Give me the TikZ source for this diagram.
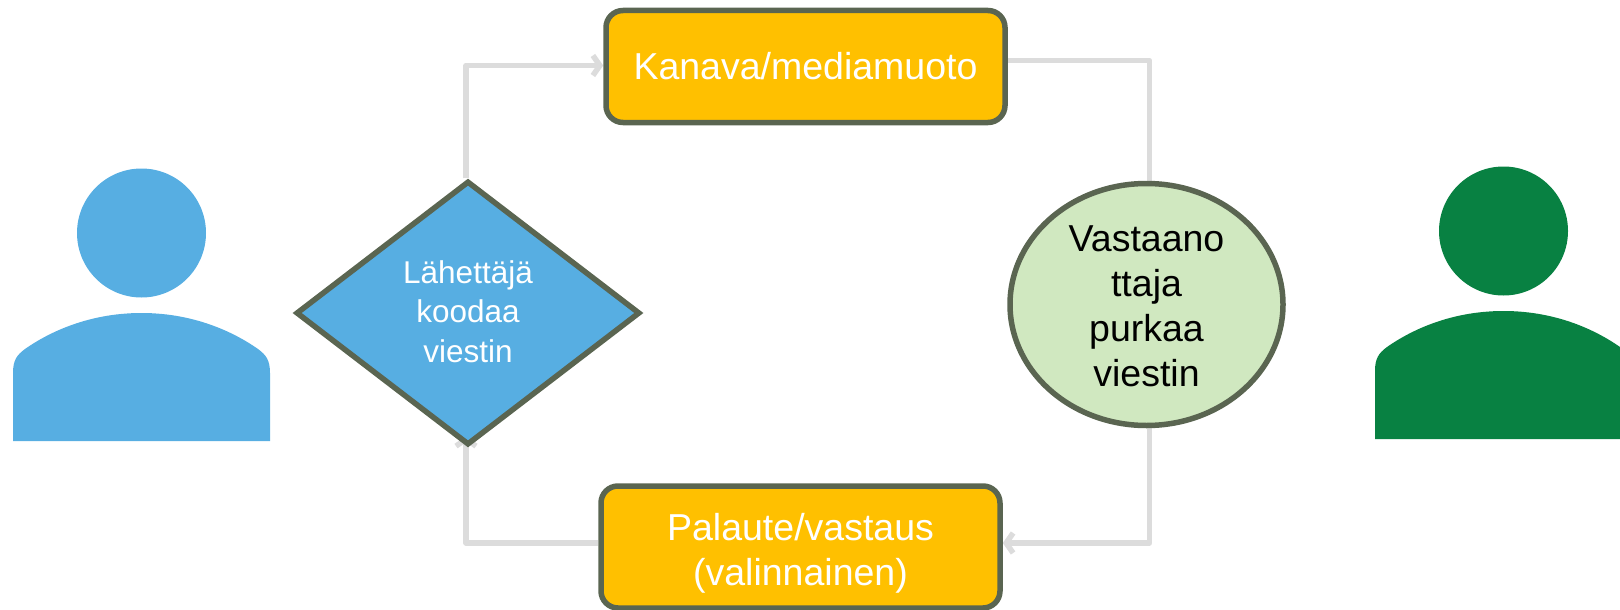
\documentclass[tikz,border=0pt]{standalone}
\usepackage{fontspec}
\setmainfont{Liberation Sans}
\usetikzlibrary{arrows.meta,backgrounds,shapes.geometric}
\definecolor{senderblue}{HTML}{57AEE2}
\definecolor{receivergreen}{HTML}{088142}
\definecolor{edgegreen}{HTML}{5A6551}
\definecolor{palegreen}{HTML}{D0E8C0}
\definecolor{boxorange}{HTML}{FFC000}
\definecolor{linkgray}{HTML}{DCDCDC}
\begin{document}
\begin{tikzpicture}[x=1pt,y=-1pt,>={Straight Barb[length=7pt,width=20pt]},
    link/.style={draw=linkgray,line width=5.5pt,line join=round,->},
    outlined/.style={draw=edgegreen,line width=5.5pt,inner sep=0pt},
    stepbox/.style={outlined,rectangle,rounded corners=17pt,fill=boxorange,text=white,
      minimum width=399pt,align=center,font=\fontsize{37.5}{45}\selectfont},
    head/.style={circle,inner sep=0pt,minimum size=129pt}]
  \clip (0,0) rectangle (1620,610);
  \node[stepbox,minimum height=112pt] (channel) at (805.5,66.5) {Kanava/mediamuoto};
  \node[stepbox,minimum height=122pt,text height=85.5pt] (feedback) at (800.5,547) {Palaute/vastaus\\(valinnainen)};
  \node[outlined,diamond,fill=senderblue,text=white,minimum width=344pt,minimum height=264pt,
    align=center,font=\fontsize{31.5}{39.5}\selectfont,text height=99pt] (encode) at (468,313) {Lähettäjä\\koodaa\\viestin};
  \node[outlined,ellipse,fill=palegreen,inner sep=-10pt,minimum width=273pt,minimum height=242pt,
    align=center,font=\fontsize{37.5}{45}\selectfont,text height=164pt] (decode) at (1146.5,304.5) {Vastaano\\ttaja\\purkaa\\viestin};
  % links run under the shapes
  \begin{pgfonlayer}{background}
    \draw[link] ([xshift=-2pt]encode.north) |- ([yshift=1pt]channel.west);
    \draw[link,-] ([yshift=6pt]channel.east) -| ([xshift=3pt]decode.north);
    \draw[link] ([xshift=3pt]decode.south) |- ([yshift=4pt]feedback.east);
    \draw[link] ([yshift=4pt]feedback.west) -| ([xshift=-2pt,yshift=12pt]encode.south);
  \end{pgfonlayer}
  % sender
  \node[head,fill=senderblue] (senderhead) at (141.5,233) {};
  \fill[senderblue] (13,441) -- (13,373) .. controls (13,360) and (17,355) .. (25,349)
    .. controls (45,335) and (85,313) .. (141.5,313) .. controls (198,313) and (238,335) .. (258,349)
    .. controls (266,355) and (270,360) .. (270,373) -- (270,441) -- cycle;
  % receiver
  \node[head,fill=receivergreen] (receiverhead) at (1503.5,231) {};
  \fill[receivergreen] (1375,439) -- (1375,371) .. controls (1375,358) and (1379,353) .. (1387,347)
    .. controls (1407,333) and (1447,311) .. (1503.5,311) .. controls (1560,311) and (1600,333) .. (1620,347)
    .. controls (1628,353) and (1632,358) .. (1632,371) -- (1632,439) -- cycle;
\end{tikzpicture}
\end{document}
